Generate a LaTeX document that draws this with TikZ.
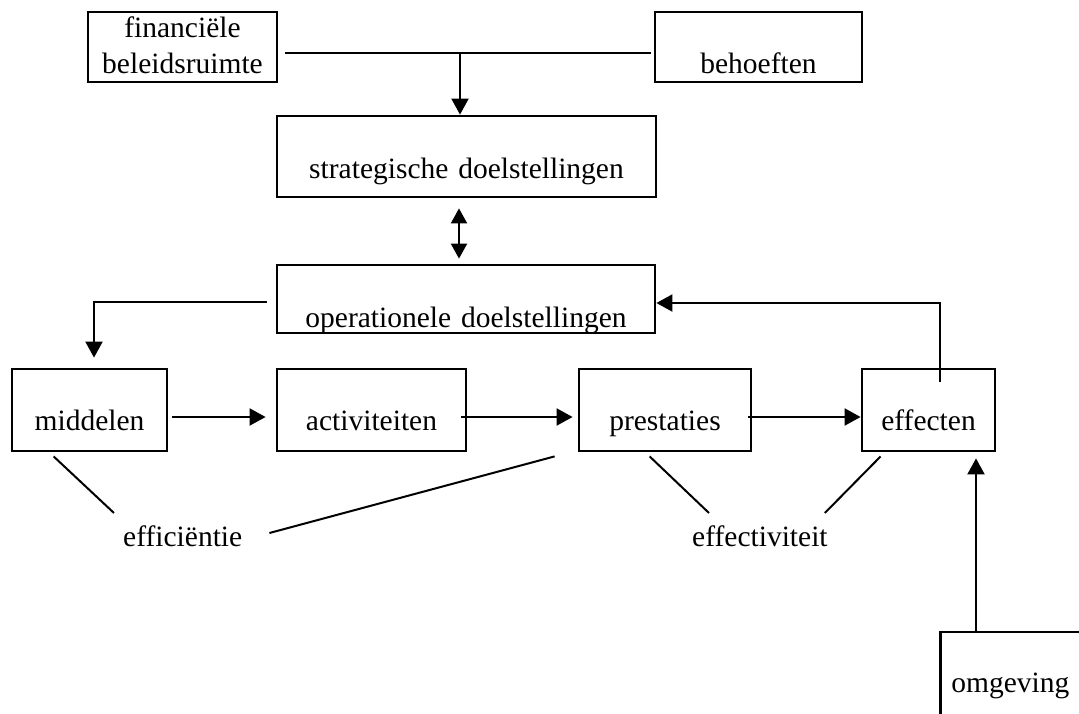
\documentclass[tikz,border=0pt]{standalone}
\usepackage{fontspec}
\setmainfont{Liberation Serif}
\usetikzlibrary{arrows.meta}
\tikzset{
  txt/.style={font=\fontsize{29.5}{36}\selectfont},
  box/.style={txt, draw, line width=2.8pt, rectangle, inner sep=0pt, anchor=base, align=center},
  lbl/.style={txt, inner sep=0pt, anchor=base west},
  conn/.style={line width=2pt},
  tip/.style={-{Triangle[length=16pt,width=17pt]}},
  arr/.style={conn, tip},
  dbl/.style={conn, {Triangle[length=15pt,width=16pt]}-{Triangle[length=15pt,width=16pt]}},
}
\begin{document}
\begin{tikzpicture}[x=1pt,y=-1pt]
\useasboundingbox (0,0) rectangle (1079,713);
\clip (0,0) rectangle (1079,713);

% boxes
\node[box, text width=189pt, text height=25pt, text depth=45pt] (fin) at (182.5,37) {financiële\\beleidsruimte};
\node[box, text width=207pt, text height=61pt, text depth=9pt] (beh) at (758.5,73) {behoeften};
\node[box, text width=379pt, text height=62pt, text depth=19pt] (strat) at (466.5,178) {strategische doelstellingen};
\node[box, text width=378pt, text height=62pt, text depth=6pt] (oper) at (466,327) {operationele doelstellingen};
\node[box, text width=155pt, text height=61pt, text depth=21pt] (midd) at (89.5,430) {middelen};
\node[box, text width=189pt, text height=61pt, text depth=21pt] (act) at (371.5,430) {activiteiten};
\node[box, text width=172pt, text height=61pt, text depth=21pt] (prest) at (665,430) {prestaties};
\node[box, text width=133pt, text height=61pt, text depth=21pt] (eff) at (928.5,430) {effecten};
\node[box, anchor=base west, align=left, inner xsep=11pt, text width=150pt, text height=60pt, text depth=40pt] (omg) at (939,692) {omgeving};

% labels
\node[lbl] (e1) at (123,546) {efficiëntie};
\node[lbl] (e2) at (692,546) {effectiviteit};

% connectors
\coordinate (j) at (460,53);
\draw[conn, shorten <=7pt, shorten >=3pt] (fin.east |- j) -- (beh.west |- j);
\draw[arr] (j) -- (j |- strat.north);

\coordinate (d) at (459,0);
\draw[dbl, shorten <=10pt, shorten >=5pt] (d |- strat.south) -- (d |- oper.north);

\coordinate (k) at (94,302);
\draw[arr, shorten <=9pt, shorten >=10pt] (oper.west |- k) -- (k) -- (k |- midd.north);

\coordinate (r) at (0,417);
\draw[arr, shorten <=4pt, shorten >=10pt] (midd.east |- r) -- (act.west |- r);
\draw[arr, shorten <=-6pt, shorten >=5pt] (act.east |- r) -- (prest.west |- r);
\draw[arr, shorten <=-4pt] (prest.east |- r) -- (eff.west |- r);

\coordinate (f) at (940,303);
\draw[arr, shorten <=-14pt] (f |- eff.north) -- (f) -- (f -| oper.east);

\coordinate (g) at (976,0);
\draw[arr, shorten >=6pt] (g |- omg.north) -- (g |- eff.south);

% diagonal relation lines
\draw[conn] ([shift={(43pt,-4pt)}]midd.south west) -- ([shift={(-9pt,33pt)}]e1.base west);
\draw[conn] ([shift={(27pt,13pt)}]e1.base east) -- ([shift={(-23pt,-4pt)}]prest.south west);
\draw[conn] ([shift={(72pt,-4pt)}]prest.south west) -- ([shift={(17pt,33pt)}]e2.base west);
\draw[conn] ([shift={(-3pt,33pt)}]e2.base east) -- ([shift={(20pt,-4pt)}]eff.south west);
\end{tikzpicture}
\end{document}
